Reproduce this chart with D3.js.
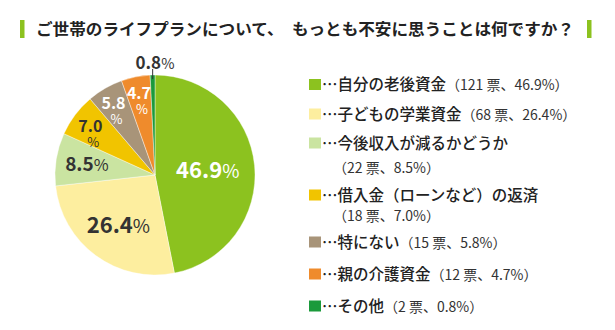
<!DOCTYPE html>
<html><head><meta charset="utf-8">
<script src="https://cdn.jsdelivr.net/npm/d3@7"></script>
<style>
html,body{margin:0;padding:0;background:#fff;}
svg{display:block;font-family:"Noto Sans CJK JP","Noto Sans",sans-serif;}
</style></head><body>
<svg id="c" width="615" height="330"></svg>
<script>
const title = "ご世帯のライフプランについて、\u3000もっとも不安に思うことは何ですか？";
const categories = ["自分の老後資金","子どもの学業資金","今後収入が減るかどうか","借入金（ローンなど）の返済","特にない","親の介護資金","その他"];
const votes = [121, 68, 22, 18, 15, 12, 2];
const percents = ["46.9","26.4","8.5","7.0","5.8","4.7","0.8"];
const colors = ["#8cc21f","#fdee9f","#cae4a1","#f1c400","#a89479","#ef8b2c","#1b9a3b"];
const labelColors = ["#fff","#333","#333","#333","#fff","#fff","#333"];

const svg = d3.select("#c");
// title
svg.append("rect").attr("x",20).attr("y",20).attr("width",4.5).attr("height",18).attr("fill","#8cc21f");
svg.append("rect").attr("x",587).attr("y",20).attr("width",4.5).attr("height",18).attr("fill","#8cc21f");
svg.append("text").attr("x",36).attr("y",35).attr("font-size",16).attr("font-weight",700)
  .attr("fill","#222").attr("textLength",538).attr("lengthAdjust","spacingAndGlyphs").text(title);

// pie
const cx=155, cy=175, R=100;
const data = categories.map((c,i)=>({c, v:votes[i], p:percents[i], col:colors[i], lc:labelColors[i], i}));
const pie = d3.pie().value(d=>d.v).sort(null);
const arc = d3.arc().innerRadius(0).outerRadius(R);
const g = svg.append("g").attr("transform",`translate(${cx},${cy})`);
const arcs = pie(data);
g.selectAll("path").data(arcs).join("path").attr("d",arc).attr("fill",d=>d.data.col)
  .attr("stroke","#fff").attr("stroke-width",0.4);

// labels
const labelR = [0.53,0.62,0.69,0.81,0.83,0.83,1.12];
const sizes = [22,22,19,16,16,16,17];
arcs.forEach((a,i)=>{
  const mid=(a.startAngle+a.endAngle)/2;
  const r=R*labelR[i];
  let x=Math.sin(mid)*r, y=-Math.cos(mid)*r;
  const d=a.data, fs=sizes[i];
  if(i===6){ x=0; y=-R-12; }
  if(i>=3 && i<=5){
    const t=g.append("text").attr("text-anchor","middle").attr("fill",d.lc).attr("font-weight",700);
    t.append("tspan").attr("x",x).attr("y",y+fs*0.36).attr("font-size",fs).text(d.p);
    t.append("tspan").attr("x",x+3).attr("y",y+fs*0.36+15).attr("font-size",fs-3).attr("font-weight",400).text("%");
  } else {
    const t=g.append("text").attr("x",x).attr("y",y+fs*0.36).attr("text-anchor","middle").attr("fill",d.lc);
    t.append("tspan").attr("font-size",fs).attr("font-weight",700).text(d.p);
    t.append("tspan").attr("font-size",fs*0.85).attr("font-weight",400).text("%");
  }
});
// leader for 0.8%
{
  const a=arcs[6]; const mid=(a.startAngle+a.endAngle)/2;
  g.append("line").attr("x1",Math.sin(mid)*R*0.96).attr("y1",-Math.cos(mid)*R*0.96)
   .attr("x2",Math.sin(mid)*R*0.96).attr("y2",-R-6).attr("stroke","#333").attr("stroke-width",1);
}

// legend
const rowY = [84.5,114,143,195,242,274,306];
const twoLine = [false,false,true,true,false,false,false];
const lg = svg.append("g");
data.forEach((d,i)=>{
  const y=rowY[i];
  lg.append("rect").attr("x",309).attr("y",y-5.5).attr("width",12).attr("height",11).attr("fill",d.col);
  const sub = `（${d.v} 票、${d.p}%）`;
  const t=lg.append("text").attr("x",322).attr("y",y+5.5).attr("fill","#222");
  t.append("tspan").attr("font-size",15.5).attr("font-weight",500).text("…"+d.c);
  if(!twoLine[i]){
    t.append("tspan").attr("font-size",14).attr("font-weight",400).attr("fill","#333").text(sub);
  } else {
    lg.append("text").attr("x",333).attr("y",y+5.5+(i===2?24:20)).attr("font-size",14).attr("fill","#333").text(sub);
  }
});
</script></body></html>
